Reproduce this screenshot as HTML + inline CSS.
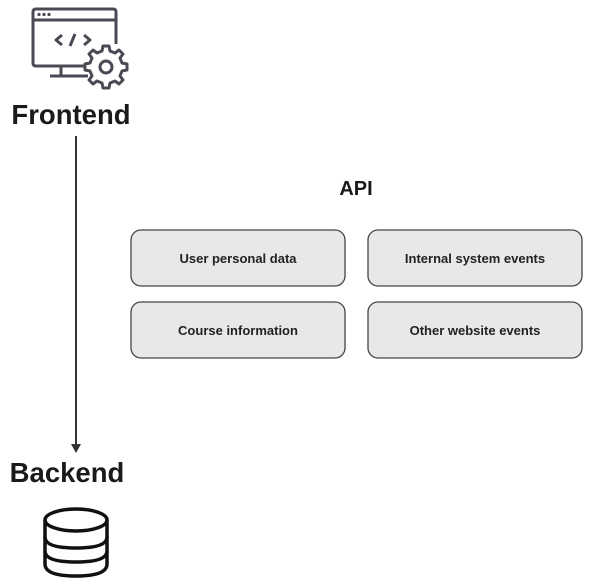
<!DOCTYPE html>
<html><head><style>body{margin:0;background:#fff}svg{display:block}</style></head><body>
<svg width="593" height="585" viewBox="0 0 593 585" xmlns="http://www.w3.org/2000/svg" font-family="Liberation Sans, DejaVu Sans, sans-serif">
<rect width="593" height="585" fill="#fff"/>
<!-- monitor icon -->
<g stroke="#4a4a55" stroke-width="3" fill="none" stroke-linejoin="round">
<path d="M116 44 V12 Q116 9 113 9 H36 Q33 9 33 12 V63 Q33 66 36 66 H86"/>
<line x1="33" y1="20" x2="116" y2="20"/>
<path d="M61 66 V75 M50 76 H88"/>
<path d="M62 35 L56 40 L62 45 M84 35 L90 40 L84 45 M75 34 L70 46"/>
<path d="M103 46 L109 46 L110 51 L115 53 L119 50 L123 54 L120 58 L122 63 L127 64 L127 70 L122 71 L120 76 L123 80 L119 84 L115 81 L110 83 L109 88 L103 88 L102 83 L97 81 L93 84 L89 80 L92 76 L90 71 L85 70 L85 64 L90 63 L92 58 L89 54 L93 50 L97 53 L102 51 Z" fill="#fff"/>
<circle cx="106" cy="67" r="6"/>
</g>
<g fill="#4a4a55"><circle cx="39" cy="14.5" r="1.6"/><circle cx="44" cy="14.5" r="1.6"/><circle cx="49" cy="14.5" r="1.6"/></g>
<text x="71" y="124" font-size="27.5" font-weight="bold" text-anchor="middle" fill="#1a1a1a">Frontend</text>
<!-- arrow -->
<line x1="76" y1="136" x2="76" y2="446" stroke="#333" stroke-width="2"/>
<path d="M71 444 L81 444 L76 453 Z" fill="#333"/>
<text x="67" y="482" font-size="27.5" font-weight="bold" text-anchor="middle" fill="#1a1a1a">Backend</text>
<!-- database -->
<g stroke="#111" stroke-width="3.5" fill="none">
<ellipse cx="76" cy="520" rx="31" ry="11"/>
<path d="M45 520 V564 Q45 576 76 576 Q107 576 107 564 V520"/>
<path d="M45 537 Q45 548 76 548 Q107 548 107 537"/>
<path d="M45 551 Q45 562 76 562 Q107 562 107 551"/>
</g>
<text x="356" y="195" font-size="20" font-weight="bold" text-anchor="middle" fill="#1a1a1a">API</text>
<g fill="#e8e8e8" stroke="#444" stroke-width="1.3">
<rect x="131" y="230" width="214" height="56" rx="10"/>
<rect x="368" y="230" width="214" height="56" rx="10"/>
<rect x="131" y="302" width="214" height="56" rx="10"/>
<rect x="368" y="302" width="214" height="56" rx="10"/>
</g>
<g font-size="13" font-weight="bold" text-anchor="middle" fill="#222">
<text x="238" y="263">User personal data</text>
<text x="475" y="263">Internal system events</text>
<text x="238" y="335">Course information</text>
<text x="475" y="335">Other website events</text>
</g>
</svg>
</body></html>
